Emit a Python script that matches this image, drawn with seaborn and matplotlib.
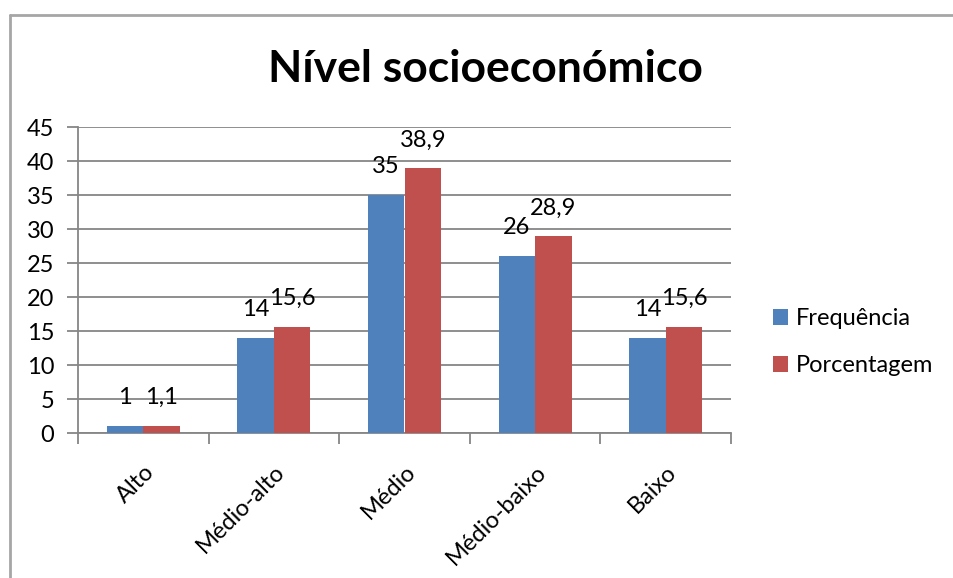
import pandas as pd
import matplotlib.pyplot as plt
import seaborn as sns
from matplotlib.lines import Line2D

# Data
categories = ['Alto', 'Médio-alto', 'Médio', 'Médio-baixo', 'Baixo']
frequencia = [1, 14, 35, 26, 14]
porcentagem = [1.1, 15.6, 38.9, 28.9, 15.6]
series_names = ['Frequência', 'Porcentagem']
yticks = list(range(0, 46, 5))

df = pd.DataFrame({
    'nivel': categories * 2,
    'valor': frequencia + porcentagem,
    'serie': [series_names[0]] * len(categories) + [series_names[1]] * len(categories),
})

sns.set_style('white')
plt.rcParams['font.family'] = ['Lato', 'DejaVu Sans']
plt.rcParams['text.color'] = 'black'
plt.rcParams['xtick.color'] = 'black'
plt.rcParams['ytick.color'] = 'black'

grid_col = '#868686'
fs = 17
fig = plt.figure(figsize=(9.54, 5.78), dpi=100)
ax = fig.add_axes([78 / 954, 1 - 433 / 578, (731 - 78) / 954, (433 - 127) / 578])

sns.barplot(data=df, x='nivel', y='valor', hue='serie', order=categories,
            hue_order=series_names, palette=['#4F81BD', '#C0504D'],
            width=0.56, gap=0, saturation=1, linewidth=0, ax=ax, zorder=3)

# data labels with comma decimals
for cont, vals in zip(ax.containers, [frequencia, porcentagem]):
    labs = [f'{v:g}'.replace('.', ',') for v in vals]
    ax.bar_label(cont, labels=labs, padding=13, fontsize=fs, color='black')

ax.set_ylim(0, 45)
ax.set_xlim(-0.5, len(categories) - 0.5)
ax.set_yticks(yticks)
ax.yaxis.grid(True, color=grid_col, lw=1.3, zorder=0)
ax.set_xlabel('')
ax.set_ylabel('')

for s in ['top', 'right']:
    ax.spines[s].set_visible(False)
for s in ['left', 'bottom']:
    ax.spines[s].set_color(grid_col)
    ax.spines[s].set_linewidth(1.3)

ax.tick_params(axis='y', length=8, width=1.3, color=grid_col, direction='out',
               labelsize=fs, pad=9, left=True, labelcolor='black')
ax.set_xticks(range(len(categories)))
ax.set_xticks([i - 0.5 for i in range(len(categories) + 1)], minor=True)
ax.tick_params(axis='x', which='major', length=0, pad=20, labelsize=fs, labelcolor='black')
ax.tick_params(axis='x', which='minor', length=8, width=1.3, color=grid_col,
               direction='out', bottom=True)
ax.set_xticklabels(categories, rotation=45, ha='right', rotation_mode='anchor')

fig.text(485 / 954, 1 - 82 / 578, 'Nível socioeconómico', fontsize=32,
         fontweight='bold', ha='center', va='baseline', color='black')

leg = ax.legend(loc='center left', bbox_to_anchor=(1.032, 0.297), frameon=False,
                fontsize=fs, handlelength=0.65, handleheight=0.65,
                handletextpad=0.3, labelspacing=1.1)

# chart border from the spreadsheet
fig.add_artist(Line2D([10 / 954, 10 / 954], [0, 1 - 15 / 578], color='#a6a6a6', lw=2))
fig.add_artist(Line2D([10 / 954, 1], [1 - 15 / 578, 1 - 15 / 578], color='#a6a6a6', lw=2))

fig.savefig('out.png', dpi=100)
